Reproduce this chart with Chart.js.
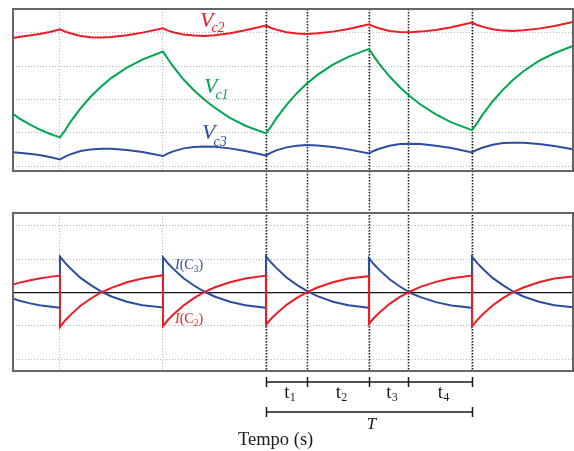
<!DOCTYPE html>
<html>
<head>
<meta charset="utf-8">
<script src="https://cdn.jsdelivr.net/npm/chart.js@4.4.1/dist/chart.umd.min.js"></script>
<style>
  body { margin: 0; background: #fff; }
  #wrap { position: relative; width: 574px; height: 451px; }
  canvas { position: absolute; left: 0; }
  #tensao { top: 0; }
  #corrente { top: 200px; }
</style>
</head>
<body>
<div id="wrap">
  <canvas id="tensao" width="574" height="200"></canvas>
  <canvas id="corrente" width="574" height="251"></canvas>
</div>
<script>
// instantes (um periodo de comutacao = 1); o instante de comutacao aparece duas vezes (antes / depois)
var tempo = [-0.456, -0.4, -0.3, -0.2, -0.1, 0,
  0, 0.05, 0.1, 0.2, 0.3, 0.4, 0.5, 0.65, 0.8, 1,
  1, 1.05, 1.1, 1.2, 1.3, 1.4, 1.5, 1.65, 1.8, 2,
  2, 2.05, 2.1, 2.2, 2.3, 2.4, 2.5, 2.65, 2.8, 3,
  3, 3.05, 3.1, 3.2, 3.3, 3.4, 3.5, 3.65, 3.8, 4,
  4, 4.05, 4.1, 4.2, 4.3, 4.4, 4.5, 4.65, 4.8, 4.981];

var vc1 = [1.57, 1.44, 1.26, 1.10, 0.97, 0.86,
  0.86, 1.07, 1.32, 1.73, 2.09, 2.39, 2.65, 2.96, 3.20, 3.44,
  3.44, 3.21, 2.99, 2.60, 2.28, 2.00, 1.76, 1.45, 1.21, 0.98,
  0.98, 1.19, 1.43, 1.84, 2.19, 2.49, 2.74, 3.05, 3.28, 3.52,
  3.52, 3.29, 3.07, 2.69, 2.37, 2.09, 1.85, 1.55, 1.31, 1.08,
  1.08, 1.29, 1.53, 1.94, 2.29, 2.59, 2.85, 3.16, 3.39, 3.61];

var vc2 = [3.85, 3.88, 3.92, 3.97, 4.03, 4.11,
  4.11, 4.04, 3.99, 3.91, 3.87, 3.86, 3.88, 3.93, 4.01, 4.14,
  4.14, 4.07, 4.02, 3.95, 3.92, 3.91, 3.93, 3.99, 4.08, 4.22,
  4.22, 4.15, 4.10, 4.02, 3.98, 3.97, 3.99, 4.04, 4.12, 4.26,
  4.26, 4.19, 4.14, 4.06, 4.03, 4.02, 4.04, 4.09, 4.17, 4.31,
  4.31, 4.24, 4.19, 4.11, 4.07, 4.06, 4.08, 4.13, 4.21, 4.33];

var vc3 = [0.41, 0.40, 0.37, 0.33, 0.27, 0.20,
  0.20, 0.28, 0.35, 0.45, 0.50, 0.52, 0.52, 0.48, 0.42, 0.30,
  0.30, 0.38, 0.44, 0.53, 0.57, 0.59, 0.58, 0.53, 0.45, 0.32,
  0.32, 0.40, 0.47, 0.56, 0.61, 0.63, 0.62, 0.57, 0.50, 0.38,
  0.38, 0.46, 0.52, 0.61, 0.66, 0.67, 0.66, 0.61, 0.54, 0.41,
  0.41, 0.49, 0.55, 0.64, 0.69, 0.70, 0.70, 0.66, 0.60, 0.50];

var ic3 = [-0.18, -0.24, -0.32, -0.38, -0.42, -0.46,
  1.08, 0.89, 0.73, 0.44, 0.22, 0.03, -0.12, -0.28, -0.38, -0.45,
  1.06, 0.87, 0.71, 0.43, 0.21, 0.03, -0.12, -0.28, -0.38, -0.46,
  1.09, 0.90, 0.74, 0.45, 0.23, 0.04, -0.11, -0.28, -0.38, -0.46,
  1.03, 0.84, 0.68, 0.40, 0.18, -0.01, -0.14, -0.29, -0.39, -0.46,
  1.08, 0.89, 0.73, 0.44, 0.22, 0.03, -0.12, -0.28, -0.38, -0.44];

var ic2 = [0.24, 0.29, 0.36, 0.42, 0.47, 0.51,
  -1.04, -0.84, -0.68, -0.40, -0.18, 0.00, 0.14, 0.31, 0.42, 0.52,
  -1.01, -0.82, -0.66, -0.39, -0.17, 0.01, 0.15, 0.31, 0.42, 0.51,
  -0.97, -0.79, -0.64, -0.37, -0.16, 0.01, 0.15, 0.31, 0.42, 0.49,
  -0.94, -0.76, -0.61, -0.34, -0.13, 0.03, 0.17, 0.32, 0.43, 0.51,
  -1.02, -0.83, -0.67, -0.39, -0.17, 0.01, 0.15, 0.31, 0.42, 0.48];

// instantes marcados (t1..t4, T)
var marcos = [2, 2.4, 3, 3.38, 4];
var nomesIntervalos = ["1", "2", "3", "4"];

var vermelho = "#ec1c24", verde = "#00a651", azul = "#2d4e9e";
var serif = "'Liberation Serif', 'Times New Roman', serif";

function pontos(valores) {
  return tempo.map(function (t, i) { return {x: t, y: valores[i]}; });
}

function serie(valores, cor) {
  return {data: pontos(valores), borderColor: cor, borderWidth: 2, pointRadius: 0, tension: 0, fill: false};
}

// texto com partes: [texto, tamanho, deslocamento vertical, italico, ajuste horizontal]
function escreve(ctx, x, y, cor, partes) {
  ctx.save();
  ctx.fillStyle = cor;
  ctx.textAlign = "left";
  ctx.textBaseline = "alphabetic";
  partes.forEach(function (p) {
    ctx.font = (p[3] ? "italic " : "") + p[1] + "px " + serif;
    x += p[4] || 0;
    ctx.fillText(p[0], x, y + p[2]);
    x += ctx.measureText(p[0]).width;
  });
  ctx.restore();
}

function largura(ctx, partes) {
  var w = 0;
  partes.forEach(function (p) {
    ctx.font = (p[3] ? "italic " : "") + p[1] + "px " + serif;
    w += ctx.measureText(p[0]).width + (p[4] || 0);
  });
  return w;
}

function pontilhada(ctx, x, y0, y1) {
  ctx.save();
  ctx.strokeStyle = "#1a1a1a";
  ctx.lineWidth = 1.5;
  ctx.setLineDash([1.5, 1.5]);
  ctx.beginPath();
  ctx.moveTo(x, y0);
  ctx.lineTo(x, y1);
  ctx.stroke();
  ctx.restore();
}

function moldura(chart) {
  var a = chart.chartArea, ctx = chart.ctx;
  ctx.save();
  ctx.strokeStyle = "#666";
  ctx.lineWidth = 2;
  ctx.strokeRect(a.left, a.top, a.right - a.left, a.bottom - a.top);
  ctx.restore();
}

function eixos(ymin, ymax, linhaZero) {
  function zero(c) { return linhaZero && c.tick && c.tick.value === 0; }
  return {
    x: {
      type: "linear", min: -0.456, max: 4.981,
      ticks: {display: false, stepSize: 1, includeBounds: false},
      grid: {color: "#b5b5b5", lineWidth: 1, drawTicks: false},
      border: {display: false, dash: [1, 2]}
    },
    y: {
      min: ymin, max: ymax,
      ticks: {display: false, stepSize: 1, includeBounds: false},
      grid: {
        color: function (c) { return zero(c) ? "#111" : "#b5b5b5"; },
        lineWidth: function (c) { return zero(c) ? 1.3 : 1; },
        drawTicks: false
      },
      border: {display: false, dash: function (c) { return zero(c) ? [] : [1, 2]; }}
    }
  };
}

var rotulosTensao = [
  {t: 1.359, v: 4.18, cor: vermelho, partes: [["V", 22, 0, true], ["c2", 14, 5, true, -2]]},
  {t: 1.398, v: 2.20, cor: verde, partes: [["V", 22, 0, true], ["c1", 14, 6, true, -2]]},
  {t: 1.379, v: 0.81, cor: azul, partes: [["V", 22, 0, true], ["c3", 14, 7, true, -2]]}
];

var rotulosCorrente = [
  {t: 1.117, v: 0.72, cor: azul, partes: [["I", 14, 0, true], ["(C", 14, 0, false], ["3", 9.5, 3, false], [")", 14, 0, false]]},
  {t: 1.117, v: -0.93, cor: vermelho, partes: [["I", 14, 0, true], ["(C", 14, 0, false], ["2", 9.5, 3, false], [")", 14, 0, false]]}
];

var pluginTensao = {
  id: "pluginTensao",
  beforeDatasetsDraw: function (chart) {
    var x = chart.scales.x;
    marcos.forEach(function (m) {
      pontilhada(chart.ctx, Math.round(x.getPixelForValue(m)) + 0.5, chart.chartArea.top, chart.height);
    });
  },
  afterDraw: function (chart) {
    moldura(chart);
    rotulosTensao.forEach(function (r) {
      escreve(chart.ctx, chart.scales.x.getPixelForValue(r.t), chart.scales.y.getPixelForValue(r.v), r.cor, r.partes);
    });
  }
};

var pluginCorrente = {
  id: "pluginCorrente",
  beforeDatasetsDraw: function (chart) {
    var x = chart.scales.x;
    marcos.forEach(function (m) {
      pontilhada(chart.ctx, Math.round(x.getPixelForValue(m)) + 0.5, 0, chart.chartArea.bottom);
    });
  },
  afterDraw: function (chart) {
    var ctx = chart.ctx, x = chart.scales.x, a = chart.chartArea;
    moldura(chart);
    rotulosCorrente.forEach(function (r) {
      escreve(ctx, x.getPixelForValue(r.t), chart.scales.y.getPixelForValue(r.v), r.cor, r.partes);
    });

    var px = marcos.map(function (m) { return Math.round(x.getPixelForValue(m)) + 0.5; });
    var yBarra = a.bottom + 11, yT = a.bottom + 41;
    ctx.save();
    ctx.strokeStyle = "#1a1a1a";
    ctx.lineWidth = 1.5;
    ctx.beginPath();
    ctx.moveTo(px[0], yBarra); ctx.lineTo(px[px.length - 1], yBarra);
    px.forEach(function (p) { ctx.moveTo(p, yBarra - 5); ctx.lineTo(p, yBarra + 5); });
    ctx.moveTo(px[0], yT); ctx.lineTo(px[px.length - 1], yT);
    ctx.moveTo(px[0], yT - 5); ctx.lineTo(px[0], yT + 5);
    ctx.moveTo(px[px.length - 1], yT - 5); ctx.lineTo(px[px.length - 1], yT + 5);
    ctx.stroke();
    ctx.restore();

    nomesIntervalos.forEach(function (n, i) {
      var partes = [["t", 19, 0, false], [n, 12, 3, false]];
      var meio = (px[i] + px[i + 1]) / 2 + 3;
      escreve(ctx, meio - largura(ctx, partes) / 2, a.bottom + 27, "#1a1a1a", partes);
    });
    var partesT = [["T", 17, 0, true]];
    escreve(ctx, (px[0] + px[px.length - 1]) / 2 + 2 - largura(ctx, partesT) / 2, yT + 17, "#1a1a1a", partesT);
    escreve(ctx, 238, a.bottom + 74, "#1a1a1a", [["Tempo (s)", 18.5, 0, false]]);
  }
};

new Chart(document.getElementById("tensao"), {
  type: "line",
  data: {datasets: [serie(vc2, vermelho), serie(vc1, verde), serie(vc3, azul)]},
  options: {
    responsive: false, animation: false,
    layout: {padding: {left: 13, right: 1, top: 9, bottom: 29}},
    plugins: {legend: {display: false}, tooltip: {enabled: false}},
    scales: eixos(-0.15, 4.72, false)
  },
  plugins: [pluginTensao]
});

new Chart(document.getElementById("corrente"), {
  type: "line",
  data: {datasets: [serie(ic2, vermelho), serie(ic3, azul)]},
  options: {
    responsive: false, animation: false,
    layout: {padding: {left: 13, right: 1, top: 13, bottom: 80}},
    plugins: {legend: {display: false}, tooltip: {enabled: false}},
    scales: eixos(-2.36, 2.39, true)
  },
  plugins: [pluginCorrente]
});
</script>
</body>
</html>
